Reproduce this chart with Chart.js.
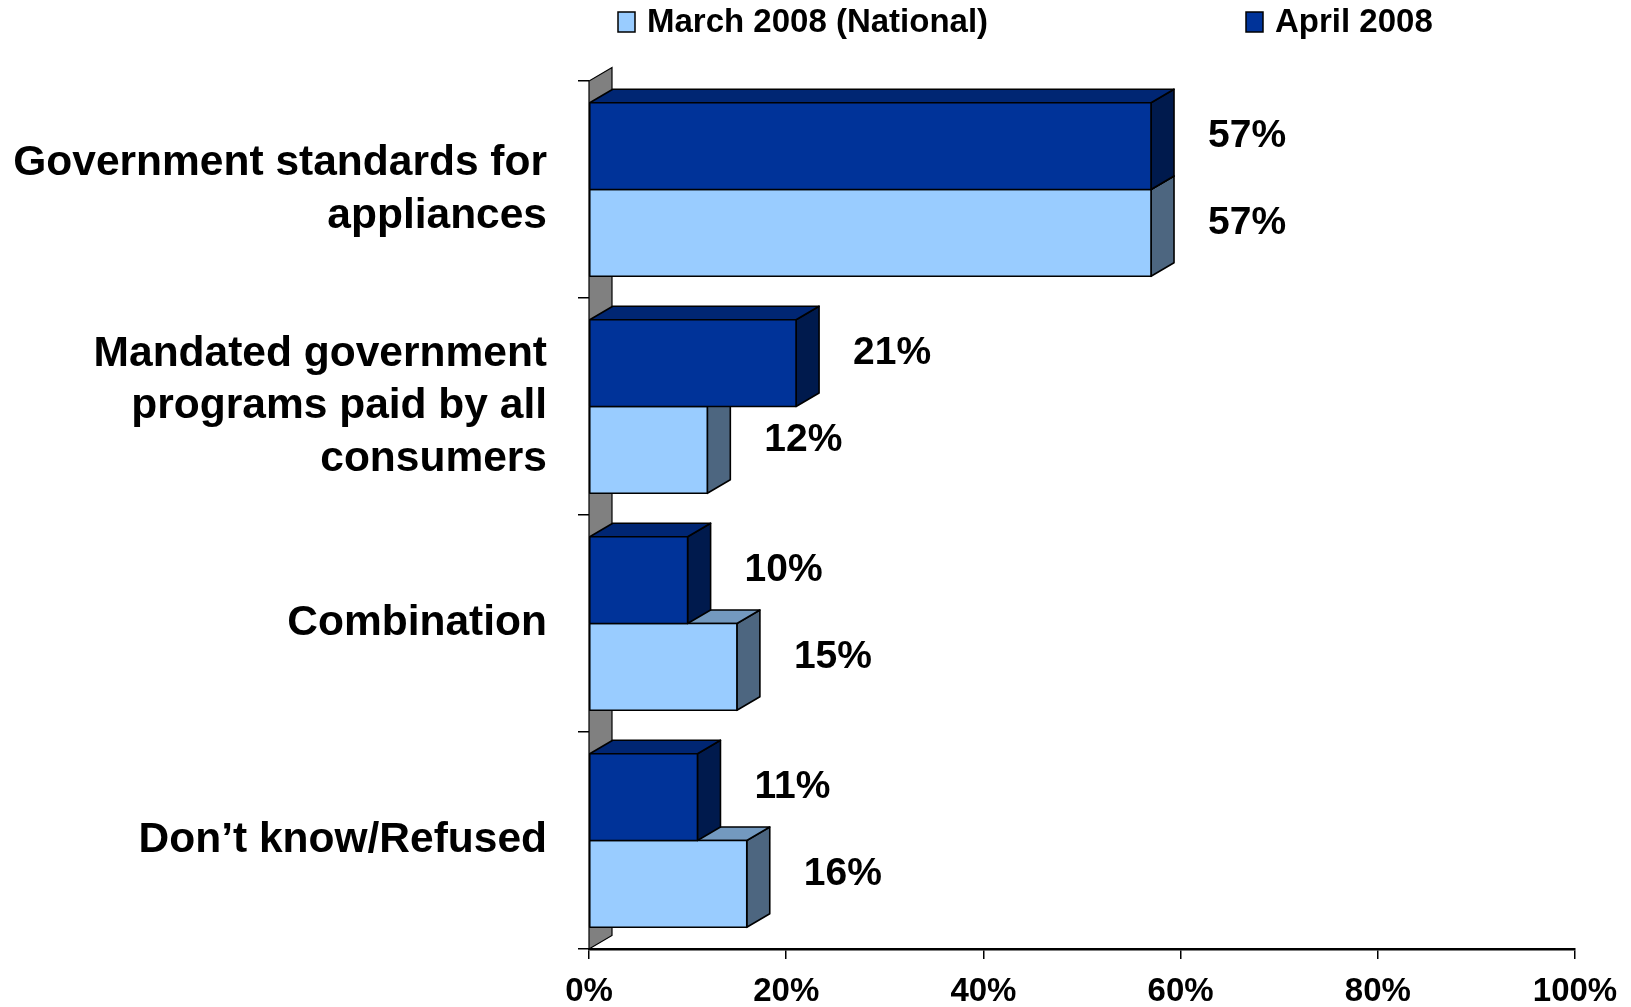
<!DOCTYPE html>
<html>
<head>
<meta charset="utf-8">
<script src="https://cdn.jsdelivr.net/npm/chart.js@4.4.0/dist/chart.umd.min.js"></script>
<style>
    html, body { margin: 0; padding: 0; background: #fff; }
    #wrap { width: 1631px; height: 1007px; }
</style>
</head>
<body>
<div id="wrap"><canvas id="grafico" width="1631" height="1007"></canvas></div>
<script>
// Dados do gráfico
const categorias = [
    ['Government standards for', 'appliances'],
    ['Mandated government', 'programs paid by all', 'consumers'],
    'Combination',
    'Don’t know/Refused'
];
const nomeMarco = 'March 2008 (National)';
const nomeAbril = 'April 2008';
const valoresMarco = [57, 12, 15, 16];
const valoresAbril = [57, 21, 10, 11];
const ticksX = [0, 20, 40, 60, 80, 100];

const fonte = '"Liberation Sans", Arial, Helvetica, sans-serif';
const DX = 23, DY = 13.5; // profundidade do efeito 3D

const coresAbril = { frente: '#003399', topo: '#002673', lado: '#001A4D' };
const coresMarco = { frente: '#99CCFF', topo: '#7399BF', lado: '#4D6680' };

// Função para desenhar uma barra em 3D (lado, topo e frente)
function caixa(ctx, esq, dir, topo, base, cores) {
    ctx.lineWidth = 1.6;
    ctx.strokeStyle = '#000';
    ctx.lineJoin = 'round';

    ctx.beginPath();
    ctx.moveTo(dir, topo);
    ctx.lineTo(dir + DX, topo - DY);
    ctx.lineTo(dir + DX, base - DY);
    ctx.lineTo(dir, base);
    ctx.closePath();
    ctx.fillStyle = cores.lado;
    ctx.fill();
    ctx.stroke();

    ctx.beginPath();
    ctx.moveTo(esq, topo);
    ctx.lineTo(esq + DX, topo - DY);
    ctx.lineTo(dir + DX, topo - DY);
    ctx.lineTo(dir, topo);
    ctx.closePath();
    ctx.fillStyle = cores.topo;
    ctx.fill();
    ctx.stroke();

    ctx.fillStyle = cores.frente;
    ctx.fillRect(esq, topo, dir - esq, base - topo);
    ctx.strokeRect(esq, topo, dir - esq, base - topo);
}

const barras3d = {
    id: 'barras3d',
    beforeDatasetsDraw(chart) {
        // parede cinza à esquerda
        const { ctx, chartArea } = chart;
        ctx.save();
        ctx.beginPath();
        ctx.moveTo(chartArea.left, chartArea.bottom);
        ctx.lineTo(chartArea.left, chartArea.top);
        ctx.lineTo(chartArea.left + DX, chartArea.top - DY);
        ctx.lineTo(chartArea.left + DX, chartArea.bottom - DY);
        ctx.closePath();
        ctx.fillStyle = '#808080';
        ctx.fill();
        ctx.lineWidth = 1.2;
        ctx.strokeStyle = '#000';
        ctx.stroke();
        ctx.restore();
    },
    afterDatasetsDraw(chart) {
        const ctx = chart.ctx;
        const n = chart.data.labels.length;
        ctx.save();
        for (let i = 0; i < n; i++) {
            // a barra de baixo primeiro, para o topo dela ficar atrás da de cima
            [1, 0].forEach(d => {
                const el = chart.getDatasetMeta(d).data[i];
                const p = el.getProps(['x', 'y', 'base', 'height'], true);
                caixa(ctx, p.base, p.x, p.y - p.height / 2, p.y + p.height / 2, chart.data.datasets[d].cores3d);
            });
        }
        // rótulos com os valores
        ctx.fillStyle = '#000';
        ctx.font = 'bold 39px ' + fonte;
        ctx.textAlign = 'left';
        ctx.textBaseline = 'middle';
        chart.data.datasets.forEach((ds, d) => {
            chart.getDatasetMeta(d).data.forEach((el, i) => {
                const p = el.getProps(['x', 'y'], true);
                ctx.fillText(ds.data[i] + '%', p.x + 57, p.y - 10);
            });
        });
        ctx.restore();
    }
};

// Legenda desenhada no topo
const legenda = {
    id: 'legenda',
    afterDraw(chart) {
        const ctx = chart.ctx;
        const itens = [
            { texto: nomeMarco, cor: coresMarco.frente, x: 618 },
            { texto: nomeAbril, cor: coresAbril.frente, x: 1246 }
        ];
        ctx.save();
        ctx.font = 'bold 33px ' + fonte;
        ctx.textBaseline = 'middle';
        ctx.textAlign = 'left';
        itens.forEach(it => {
            ctx.fillStyle = it.cor;
            ctx.fillRect(it.x, 12, 17, 20);
            ctx.lineWidth = 1.5;
            ctx.strokeStyle = '#000';
            ctx.strokeRect(it.x, 12, 17, 20);
            ctx.fillStyle = '#000';
            ctx.fillText(it.texto, it.x + 29, 23);
        });
        ctx.restore();
    }
};

new Chart(document.getElementById('grafico'), {
    type: 'bar',
    data: {
        labels: categorias,
        datasets: [
            { label: nomeAbril, data: valoresAbril, cores3d: coresAbril, backgroundColor: 'rgba(0,0,0,0)', borderWidth: 0 },
            { label: nomeMarco, data: valoresMarco, cores3d: coresMarco, backgroundColor: 'rgba(0,0,0,0)', borderWidth: 0 }
        ]
    },
    options: {
        indexAxis: 'y',
        responsive: false,
        animation: false,
        devicePixelRatio: 1,
        categoryPercentage: 0.8,
        barPercentage: 1.0,
        layout: { padding: { top: 81, right: 56, bottom: 0, left: 0 } },
        plugins: {
            legend: { display: false },
            tooltip: { enabled: false }
        },
        scales: {
            x: {
                min: 0,
                max: 100,
                afterBuildTicks: s => { s.ticks = ticksX.map(v => ({ value: v })); },
                ticks: {
                    callback: v => v + '%',
                    color: '#000',
                    font: { family: fonte, size: 33, weight: 'bold' },
                    padding: 13,
                    maxRotation: 0
                },
                grid: { display: true, drawOnChartArea: false, drawTicks: true, tickLength: 10, color: '#000', lineWidth: 1.5 },
                border: { display: true, color: '#000', width: 2.5 },
                afterFit(s) { s.height = 58; }
            },
            y: {
                ticks: {
                    color: '#000',
                    font: { family: fonte, size: 42.5, weight: 'bold', lineHeight: 1.24 },
                    padding: 31
                },
                grid: { display: true, drawOnChartArea: false, drawTicks: true, tickLength: 11, color: '#000', lineWidth: 1.5, offset: true },
                border: { display: false },
                afterFit(s) {
                    s.width = 589;
                    s.paddingTop = 0;
                    s.paddingBottom = 0;
                }
            }
        }
    },
    plugins: [barras3d, legenda]
});
</script>
</body>
</html>
